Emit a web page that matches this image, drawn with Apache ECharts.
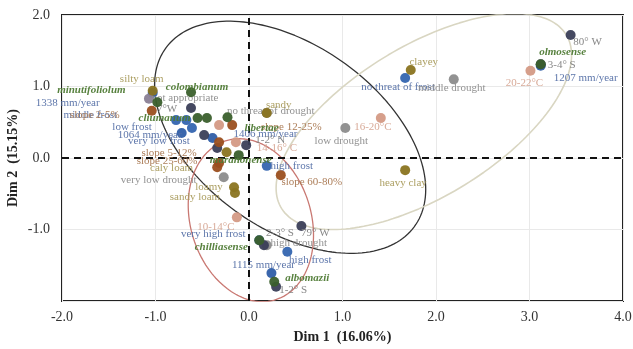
<!DOCTYPE html>
<html><head><meta charset="utf-8">
<script src="https://cdn.jsdelivr.net/npm/echarts@6/dist/echarts.min.js"></script>
<style>html,body{margin:0;padding:0;background:#fff}#c{width:633px;height:349px}</style>
</head><body><div id="c"></div>
<script>
// ---- data ----
const xTicks = [-2, -1, 0, 1, 2, 3, 4];
const yTicks = [-2, -1, 0, 1, 2];
const xAxisName = 'Dim 1  (16.06%)';
const yAxisName = 'Dim 2  (15.15%)';

const speciesNames = ['minutifoliolum','colombianum','cliumanum','','libertae','maranonense','chilliasense','albomazii','olmosense'];
const speciesX = [-0.98,-0.62,-0.55,-0.45,-0.23,-0.11,0.11,0.27,3.12];
const speciesY = [0.78,0.92,0.56,0.56,0.57,0.04,-1.15,-1.73,1.31];

const rainNames = ['1338 mm/year','1064 mm/year','1406 mm/year','1207 mm/year','1115 mm/year'];
const rainX = [-1.03,-0.72,-0.39,3.12,0.24];
const rainY = [0.91,0.35,0.28,1.29,-1.61];

const frostNames = ['very high frost','low frost','middle frost','very low frost','high frost','high frost ','no threat of frost'];
const frostX = [0.11,-0.78,-0.67,-0.61,0.19,0.41,1.67];
const frostY = [-1.15,0.53,0.53,0.42,-0.11,-1.31,1.12];

const tempNames = ['20-22°C','16-20°C','14-16° C','10-14°C',''];
const tempX = [3.01,1.41,-0.14,-0.13,-0.32];
const tempY = [1.22,0.56,0.22,-0.83,0.46];

const droughtNames = ['no threat of drought','middle drought','low drought','very low drought','high drought'];
const droughtX = [0.19,2.19,1.03,-0.27,0.19];
const droughtY = [0.63,1.10,0.42,-0.27,-1.22];

const soilNames = ['silty loam','sandy','clayey','heavy clay','caly loam','loamy','sandy loam'];
const soilX = [-1.03,0.19,1.73,1.67,-0.24,-0.16,-0.15];
const soilY = [0.94,0.63,1.23,-0.17,0.08,-0.41,-0.49];

const slopeNames = ['slope 2-5%','slope 12-25%','slope 5-12%','slope 25-60%','','slope 60-80%'];
const slopeX = [-1.04,-0.18,-0.32,-0.32,-0.34,0.34];
const slopeY = [0.66,0.46,0.22,-0.07,-0.13,-0.24];

const geoNames = ['80° W','3-4° S','79° W','2-3° S','1-2° S','7°W','1-2° N','',''];
const geoX = [3.44,3.12,0.56,0.16,0.29,-0.62,-0.03,-0.34,-0.48];
const geoY = [1.72,1.31,-0.95,-1.22,-1.80,0.70,0.18,0.14,0.32];

const otherNames = ['not appropriate'];
const otherX = [-1.07];
const otherY = [0.83];

// ellipses: centre, conjugate semi-diameters (data units)
const ellCx = [0.44, 1.87, 0.02];
const ellCy = [0.29, 0.51, -0.87];
const ellAx = [1.45, 1.58, 0.67];
const ellAy = [-0.73, 0.93, -0.21];
const ellBy = [1.45, 1.19, 1.12];

// ---- layout / style (kept apart from data) ----
const labelOffsets = {
 'minutifoliolum':[-66,-12],'colombianum':[6,-5],'cliumanum':[-33,0],'libertae':[34,11],'maranonense':[2,5],
 'chilliasense':[-38,7],'albomazii':[33,-4],'olmosense':[22,-12],
 '1338 mm/year':[-85,10],'1064 mm/year':[-32,2],'1406 mm/year':[53,-4],'1207 mm/year':[45,12],'1115 mm/year':[-8,-8],
 'very high frost':[-46,-6],'low frost':[-44,7],'middle frost':[-96,-5],'very low frost':[-33,13],'high frost':[25,0],
 'high frost ':[23,8],'no threat of frost':[-7,9],
 '20-22°C':[-6,12],'16-20°C':[-8,9],'14-16° C':[41,6],'10-14°C':[-21,10],
 'no threat of drought':[4,-2],'middle drought':[-2,9],'low drought':[-4,13],'very low drought':[-65,3],'high drought':[32,-2],
 'silty loam':[-11,-12],'sandy':[12,-8],'clayey':[13,-8],'heavy clay':[-2,13],'caly loam':[-55,16],'loamy':[-25,0],'sandy loam':[-40,4],
 'slope 2-5%':[-57,4],'slope 12-25%':[59,2],'slope 5-12%':[-50,11],'slope 25-60%':[-52,-2],'slope 60-80%':[31,7],
 '80° W':[17,7],'3-4° S':[21,1],'79° W':[14,7],'2-3° S':[16,-12],'1-2° S':[17,3],'7°W':[-24,1],'1-2° N':[24,-5],
 'not appropriate':[36,-1]
};
const serif = '"Liberation Serif","DejaVu Serif",serif';

function makeScatter(names, xs, ys, color, labelColor, italic, z) {
  return {
    type: 'scatter', symbolSize: 10, z: z,
    itemStyle: { color: color, opacity: 0.95 },
    data: names.map((n, i) => ({
      value: [xs[i], ys[i]], name: n,
      label: {
        show: n !== '', position: 'inside', formatter: n.trim(),
        offset: labelOffsets[n] || [0, 0],
        color: labelColor, fontFamily: serif, fontSize: 11,
        fontWeight: italic ? 'bold' : 'normal', fontStyle: italic ? 'italic' : 'normal'
      }
    })),
    emphasis: { disabled: true }
  };
}

function ellipse(k) {
  const pts = [];
  for (let i = 0; i <= 180; i++) {
    const t = i / 180 * 2 * Math.PI;
    pts.push([ellCx[k] + ellAx[k] * Math.cos(t), ellCy[k] + ellAy[k] * Math.cos(t) + ellBy[k] * Math.sin(t)]);
  }
  return pts;
}
const ellColors = ['#333333', '#d9d6c2', '#c97872'];
const ellWidths = [1.3, 1.6, 1.3];

const series = [];
ellColors.forEach((c, k) => series.push({
  type: 'line', data: ellipse(k), showSymbol: false, smooth: false, silent: true, z: 3,
  lineStyle: { color: c, width: ellWidths[k] }, clip: true
}));
series.push({
  type: 'line', data: [], silent: true, z: 4,
  markLine: {
    silent: true, symbol: ['none', 'none'], label: { show: false },
    lineStyle: { type: [7, 5], color: '#111', width: 2 },
    data: [{ xAxis: 0 }, { yAxis: 0 }]
  }
});
series.push(makeScatter(rainNames, rainX, rainY, '#2f5ea8', '#5570a6', false, 5));
series.push(makeScatter(frostNames, frostX, frostY, '#3465b0', '#5570a6', false, 5));
series.push(makeScatter(droughtNames, droughtX, droughtY, '#8c8c8c', '#8c8c8c', false, 5));
series.push(makeScatter(geoNames, geoX, geoY, '#3b3f58', '#7f7f7f', false, 6));
series.push(makeScatter(tempNames, tempX, tempY, '#d49a85', '#d6a592', false, 6));
series.push(makeScatter(slopeNames, slopeX, slopeY, '#9b4f1f', '#a8764f', false, 6));
series.push(makeScatter(otherNames, otherX, otherY, '#8a7f95', '#8c8c8c', false, 6));
series.push(makeScatter(soilNames, soilX, soilY, '#8a7420', '#a89a5a', false, 7));
series.push(makeScatter(speciesNames, speciesX, speciesY, '#3a5f2c', '#4e7a34', true, 8));

const chart = echarts.init(document.getElementById('c'), null, { renderer: 'canvas' });
chart.setOption({
  animation: false,
  backgroundColor: '#fff',
  grid: { left: 62, right: 10, top: 15, bottom: 48, show: true, borderColor: '#222', borderWidth: 2,
          backgroundColor: 'transparent', containLabel: false, outerBoundsMode: 'none' },
  xAxis: {
    type: 'value', min: xTicks[0], max: xTicks[xTicks.length - 1], interval: 1,
    name: xAxisName, nameLocation: 'middle', nameGap: 29, nameMoveOverlap: false,
    nameTextStyle: { fontFamily: serif, fontWeight: 'bold', fontSize: 14, color: '#222' },
    axisLine: { show: false }, axisTick: { show: false },
    axisLabel: { fontFamily: serif, fontSize: 14, color: '#333', margin: 9, formatter: v => v.toFixed(1) },
    splitLine: { show: true, lineStyle: { color: '#e9e9e9', width: 1 } }
  },
  yAxis: {
    type: 'value', min: yTicks[0], max: yTicks[yTicks.length - 1], interval: 1,
    name: yAxisName, nameLocation: 'middle', nameGap: 42, nameRotate: 90, nameMoveOverlap: false,
    nameTextStyle: { fontFamily: serif, fontWeight: 'bold', fontSize: 14, color: '#222' },
    axisLine: { show: false }, axisTick: { show: false },
    axisLabel: { fontFamily: serif, fontSize: 14, color: '#333', margin: 12, formatter: v => v === yTicks[0] ? '' : v.toFixed(1) },
    splitLine: { show: true, lineStyle: { color: '#e9e9e9', width: 1 } }
  },
  series: series
});
</script></body></html>
